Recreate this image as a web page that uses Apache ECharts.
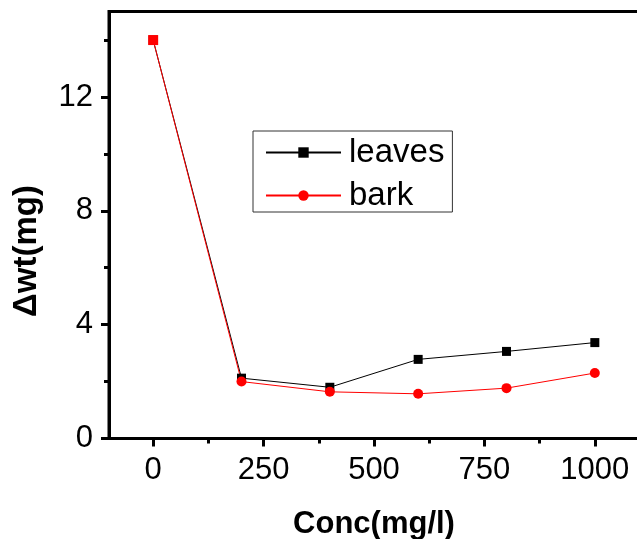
<!DOCTYPE html>
<html>
<head>
<meta charset="utf-8">
<script src="https://cdn.jsdelivr.net/npm/echarts@6/dist/echarts.min.js"></script>
<style>html,body{margin:0;padding:0;background:#fff;}#c{width:637px;height:539px;}</style>
</head>
<body>
<div id="c"></div>
<script>
var concentrations = [0, 200, 400, 600, 800, 1000];
var leavesValues = [14.0, 2.12, 1.80, 2.78, 3.06, 3.37];
var barkValues = [14.0, 2.00, 1.64, 1.57, 1.77, 2.30];
var xTickValues = [0, 250, 500, 750, 1000];
var xMinorTickValues = [125, 375, 625, 875];
var yTickValues = [0, 4, 8, 12];
var yMinorTickValues = [2, 6, 10, 14];
var seriesNames = ['leaves', 'bark'];

var FONT = 'Liberation Sans, Arial, sans-serif';
function pairs(xs, ys) { return xs.map(function (x, i) { return [x, ys[i]]; }); }
function plain(v) { return String(v); }

var barkData = pairs(concentrations, barkValues).map(function (p, i) {
  return i === 0 ? { value: p, symbol: 'rect', symbolSize: 10 } : p;
});

function tickAxis(min, max, pos, values, len) {
  return {
    type: 'value', min: min, max: max, position: pos, offset: 0,
    axisLine: { show: false, onZero: false },
    axisTick: { show: true, inside: false, length: len, customValues: values, lineStyle: { color: '#000', width: 3 } },
    axisLabel: { show: false },
    splitLine: { show: false }
  };
}

var chart = echarts.init(document.getElementById('c'), null, { renderer: 'canvas' });
chart.setOption({
  animation: false,
  backgroundColor: '#fff',
  grid: {
    left: 109, right: -2, top: 11.6, bottom: 100.5, outerBoundsMode: 'none', containLabel: false,
    show: true, borderColor: '#000', borderWidth: 3, backgroundColor: 'transparent'
  },
  legend: {
    orient: 'vertical',
    left: 253, top: 131,
    data: seriesNames,
    itemWidth: 75, itemHeight: 13, itemGap: 10,
    padding: [5, 8, 0, 12],
    borderColor: '#333', borderWidth: 1,
    textStyle: { fontFamily: FONT, fontSize: 33, color: '#000', padding: [0, 0, 0, 3] }
  },
  xAxis: [{
    type: 'value', min: -100, max: 1100, position: 'bottom',
    name: 'Conc(mg/l)', nameLocation: 'middle', nameGap: 70,
    nameTextStyle: { fontFamily: FONT, fontSize: 31, fontWeight: 'bold', color: '#000' },
    axisLine: { show: true, onZero: false, lineStyle: { color: '#000', width: 3 } },
    axisTick: { show: false },
    axisLabel: { show: true, customValues: xTickValues, formatter: plain, margin: 16, fontFamily: FONT, fontSize: 31, color: '#000' },
    splitLine: { show: false }
  },
  tickAxis(-100, 1100, 'bottom', xMinorTickValues, 5),
  tickAxis(-100, 1100, 'bottom', xTickValues, 8)],
  yAxis: [{
    type: 'value', min: 0, max: 15, position: 'left',
    name: 'Δwt(mg)', nameLocation: 'middle', nameGap: 66,
    nameTextStyle: { fontFamily: FONT, fontSize: 33, fontWeight: 'bold', color: '#000', padding: [0, 52, 0, 0] },
    axisLine: { show: true, onZero: false, lineStyle: { color: '#000', width: 3 } },
    axisTick: { show: false },
    axisLabel: { show: true, customValues: yTickValues, formatter: plain, margin: 16, fontFamily: FONT, fontSize: 31, color: '#000' },
    splitLine: { show: false }
  },
  tickAxis(0, 15, 'left', yMinorTickValues, 5),
  tickAxis(0, 15, 'left', yTickValues, 8)],
  series: [{
    name: seriesNames[0], type: 'line', xAxisIndex: 0, yAxisIndex: 0,
    data: pairs(concentrations, leavesValues),
    symbol: 'rect', symbolSize: 9,
    lineStyle: { color: '#000', width: 1 },
    itemStyle: { color: '#000' }
  }, {
    name: seriesNames[1], type: 'line', xAxisIndex: 0, yAxisIndex: 0,
    data: barkData,
    symbol: 'circle', symbolSize: 10,
    lineStyle: { color: '#ff0000', width: 1 },
    itemStyle: { color: '#ff0000' }
  }]
});
</script>
</body>
</html>
